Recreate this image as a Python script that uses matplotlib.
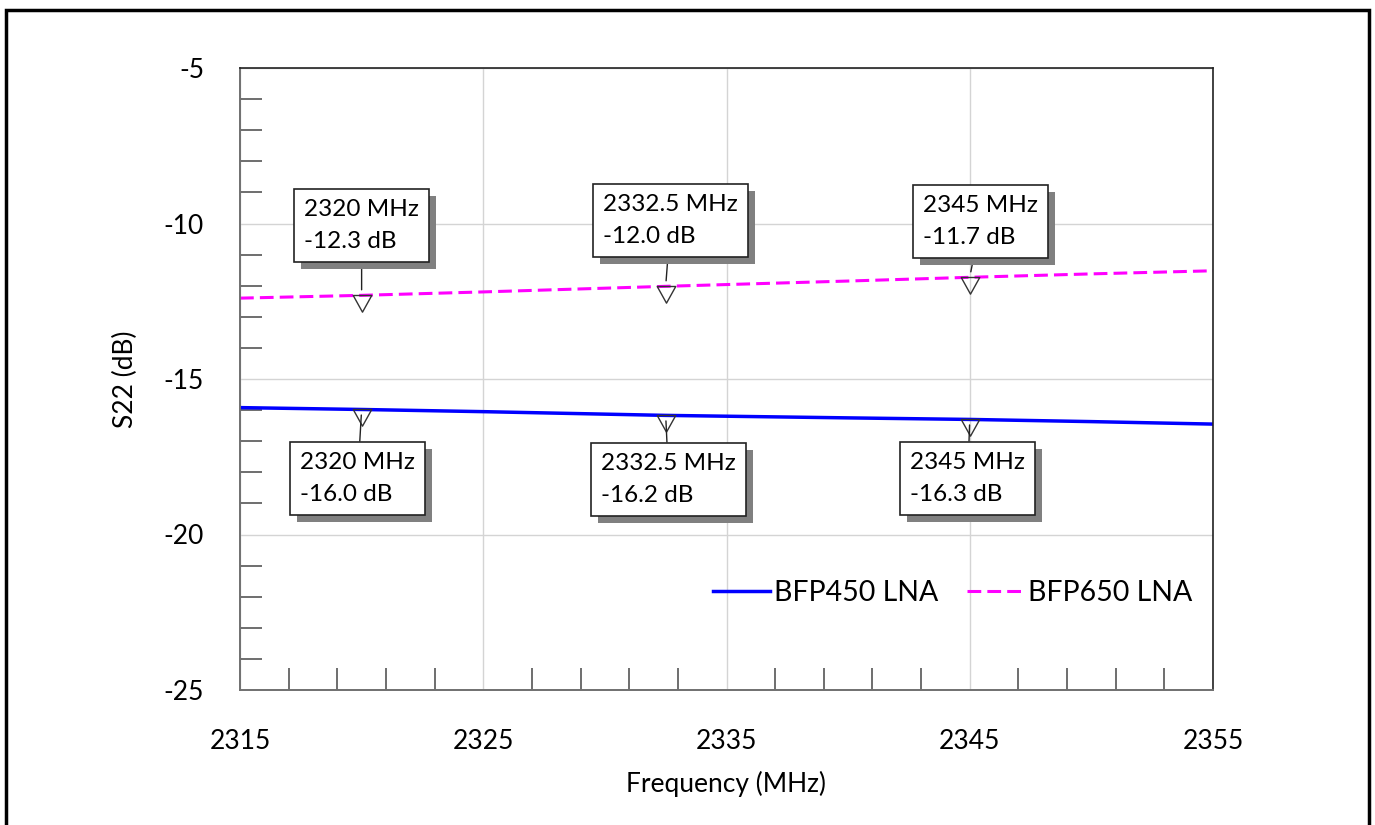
import numpy as np
import matplotlib
matplotlib.use('Agg')
import matplotlib.pyplot as plt
import matplotlib.patheffects as pe
from matplotlib.path import Path
from matplotlib.patches import Rectangle

plt.rcParams['font.family'] = ['Lato', 'DejaVu Sans']
plt.rcParams['axes.unicode_minus'] = False

# data
freq = [2315, 2320, 2325, 2332.5, 2340, 2345, 2350, 2355]
s22_bfp450 = [-15.92, -15.98, -16.05, -16.17, -16.25, -16.30, -16.37, -16.45]
s22_bfp650 = [-12.40, -12.31, -12.20, -12.02, -11.85, -11.73, -11.62, -11.52]
series_names = ['BFP450 LNA', 'BFP650 LNA']
marker_freqs = [2320, 2332.5, 2345]
x_major = [2315, 2325, 2335, 2345, 2355]
y_major = [-25, -20, -15, -10, -5]

fig = plt.figure(figsize=(13.75, 8.25), dpi=100)
ax = fig.add_axes([240 / 1375, 1 - 690 / 825, 973 / 1375, 622 / 825])

ax.plot(freq, s22_bfp450, color='#0000ff', lw=2.5, label=series_names[0])
ax.plot(freq, s22_bfp650, color='#ff00ff', lw=2.2, ls=(0, (4.5, 2)), label=series_names[1])

ax.set_xlim(x_major[0], x_major[-1])
ax.set_ylim(y_major[0], y_major[-1])
ax.set_xticks(x_major)
ax.set_yticks(y_major)
ax.set_xticks([v for v in np.arange(2317, 2355, 2) if v not in x_major], minor=True)
ax.set_yticks([v for v in np.arange(-24, -5) if v not in y_major], minor=True)
ax.grid(True, which='major', color='#d4d4d4', lw=1)
ax.tick_params(which='major', length=0, labelsize=19, pad=28)
ax.tick_params(axis='y', which='major', pad=26)
ax.tick_params(which='minor', direction='in', length=16, width=1.2, color='#555555')
for side in ['left', 'bottom']:
    ax.spines[side].set_color('#707070')
    ax.spines[side].set_linewidth(1.4)
for side in ['top', 'right']:
    ax.spines[side].set_color('#222222')
    ax.spines[side].set_linewidth(1.2)

ax.set_xlabel('Frequency (MHz)', fontsize=19, labelpad=12)
ax.set_ylabel('S22 (dB)', fontsize=19, labelpad=18)

# downward triangle marker with its top edge on the data point
tri = Path([(-1, 0), (1, 0), (0, -1.8), (-1, 0)],
           [Path.MOVETO, Path.LINETO, Path.LINETO, Path.CLOSEPOLY])

offsets_650 = [(0, 70), (5, 66), (11, 56)]
offsets_450 = [(-4, -69), (3, -64), (-2, -59)]

for ys, offs in [(s22_bfp650, offsets_650), (s22_bfp450, offsets_450)]:
    for f, off in zip(marker_freqs, offs):
        y = np.interp(f, freq, ys)
        ax.plot([f], [y], marker=tri, ms=24, mfc='none', mec='#333333', mew=1, zorder=6)
        ann = ax.annotate('%g MHz\n%.1f dB' % (f, y), xy=(f, y), xytext=off,
                          textcoords='offset pixels', ha='center', va='center',
                          multialignment='left', fontsize=17.5, linespacing=1.65, zorder=7,
                          bbox=dict(boxstyle='square,pad=0.42', fc='white', ec='#222222', lw=1.2),
                          arrowprops=dict(arrowstyle='-', color='#222222', lw=1, shrinkA=0, shrinkB=4))
        ann.get_bbox_patch().set_path_effects([
            pe.SimplePatchShadow(offset=(5, -5), shadow_rgbFace='#808080', alpha=1), pe.Normal()])

ax.legend(loc='center right', bbox_to_anchor=(1.005, 0.156), ncol=2, frameon=False,
          fontsize=20.5, handlelength=2.0, handletextpad=0.15, columnspacing=1.0)

# outer frame
fig.patches.append(Rectangle((6 / 1375, -0.02), 1363 / 1375, 1 - 10 / 825 + 0.02,
                             transform=fig.transFigure, fill=False, ec='black', lw=2.5))

fig.savefig('out.png', dpi=100)
